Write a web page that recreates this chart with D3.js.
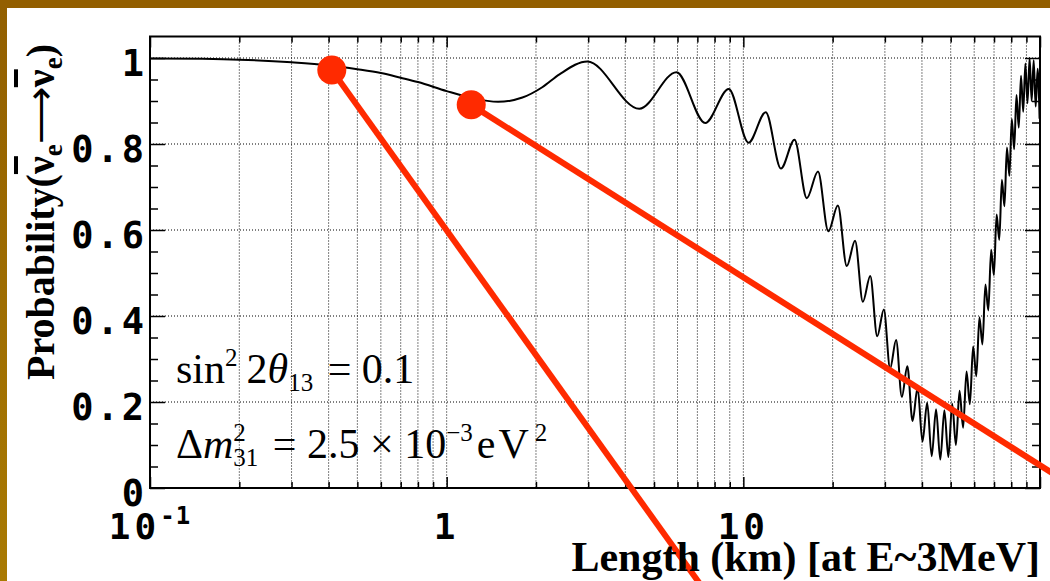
<!DOCTYPE html>
<meta charset="UTF-8">
<style>
  body { margin: 0; background: #fff; }
  svg { display: block; }
  .grid line { stroke: #000; stroke-width: 1; stroke-dasharray: 1,2; }
  .ticklab { font-family: "DejaVu Sans Mono", monospace; font-weight: bold; fill: #000; }
  .serif { font-family: "Liberation Serif", "Times New Roman", serif; fill: #000; }
  .axis path { display: none; }
  .axis line { stroke: #000; stroke-width: 1.5; }
</style>

<svg width="1050" height="581"></svg>
<script src="https://d3js.org/d3.v7.min.js"></script>
<script>

// curve: distance (km) and survival probability
var lengthKm = [0.1, 0.15, 0.2, 0.3, 0.4, 0.5, 0.6, 0.7, 0.8, 1.0, 1.2, 1.49, 1.8, 2.1, 2.4,
    2.98, 4.46, 5.95, 7.44, 8.93, 10.41, 11.90, 13.39, 14.88, 16.37, 17.85, 19.34, 20.83,
    22.32, 23.80, 25.29, 26.78, 28.27, 29.76, 31.24, 32.73, 34.22, 35.71, 37.19, 38.68,
    40.17, 41.66, 43.15, 44.63, 46.12, 47.61, 49.10, 50.58, 52.07, 53.56, 55.05, 56.54,
    58.02, 59.51, 61.00, 62.49, 63.97, 65.46, 66.95, 68.44, 69.92, 71.41, 72.90, 74.39,
    75.88, 77.36, 78.85, 80.34, 81.83, 83.31, 84.80, 86.29, 87.78, 89.27, 90.75, 92.24,
    93.73, 95.22, 96.70, 98.19, 99.68];
var probability = [0.999, 0.998, 0.996, 0.990, 0.983, 0.974, 0.965, 0.954, 0.944, 0.923, 0.908, 0.898, 0.908, 0.932, 0.962,
    0.992, 0.882, 0.967, 0.849, 0.928, 0.803, 0.874, 0.743, 0.810, 0.674, 0.736, 0.597, 0.657,
    0.516, 0.575, 0.433, 0.493, 0.353, 0.415, 0.278, 0.344, 0.212, 0.283, 0.156, 0.233,
    0.108, 0.198, 0.074, 0.183, 0.066, 0.181, 0.072, 0.196, 0.100, 0.226, 0.140, 0.271,
    0.195, 0.329, 0.260, 0.397, 0.334, 0.473, 0.413, 0.554, 0.495, 0.636, 0.577, 0.717,
    0.655, 0.792, 0.726, 0.858, 0.788, 0.914, 0.838, 0.959, 0.875, 0.987, 0.895, 1.000,
    0.900, 0.995, 0.887, 0.975, 0.859];

var yTickValues = [0, 0.2, 0.4, 0.6, 0.8, 1];
var yTickLabels = ["0", "0.2", "0.4", "0.6", "0.8", "1"];
var xLabelValues = [0.1, 1, 10];
var xLabelBase = ["10", "1", "10"];
var xLabelExp = ["-1", "", ""];

// red markers and the pointer lines leaving them
var markerKm = [0.41, 1.21];
var markerProb = [0.972, 0.891];
var pointerEndKm = [7.8, 117];
var pointerEndProb = [-0.26, 0.023];

var svg = d3.select("svg");
var plotL = 150, plotR = 1040, plotT = 36.5, plotB = 488;

var x = d3.scaleLog().domain([0.1, 100]).range([plotL, plotR]);
var y = d3.scaleLinear().domain([0, 1.05]).range([plotB, plotT]);

// brown slide frame
var grad = svg.append("defs").append("linearGradient")
    .attr("id", "edge").attr("x1", 0).attr("y1", 0).attr("x2", 0).attr("y2", 1);
grad.append("stop").attr("offset", "0%").attr("stop-color", "#925f00");
grad.append("stop").attr("offset", "100%").attr("stop-color", "#a97a02");
svg.append("rect").attr("x", 0).attr("y", 0).attr("width", 7).attr("height", 581).attr("fill", "url(#edge)");
svg.append("rect").attr("x", 0).attr("y", 0).attr("width", 1050).attr("height", 8).attr("fill", "#935f00");

var xAll = x.ticks();
var xMajor = xAll.filter(function(d) { return Math.abs(Math.log10(d) - Math.round(Math.log10(d))) < 1e-9; });
var xMinor = xAll.filter(function(d) { return xMajor.indexOf(d) < 0; });
var yMinor = y.ticks(21).filter(function(d) { return d <= 1.0001 && yTickValues.indexOf(+d.toFixed(2)) < 0; });

// dotted grid
var grid = svg.append("g").attr("class", "grid");
grid.selectAll(".vx").data(xAll.filter(function(d) { return d > 0.1 && d < 100; }))
  .enter().append("line")
    .attr("x1", function(d) { return x(d); }).attr("x2", function(d) { return x(d); })
    .attr("y1", plotT).attr("y2", plotB);
grid.selectAll(".hy").data(yTickValues.slice(1))
  .enter().append("line")
    .attr("x1", plotL).attr("x2", plotR)
    .attr("y1", function(d) { return y(d); }).attr("y2", function(d) { return y(d); });

// inward ticks on all four sides
svg.append("g").attr("class", "axis").attr("transform", "translate(0," + plotB + ")")
    .call(d3.axisBottom(x).tickValues(xMajor).tickSize(-11).tickFormat(""));
svg.append("g").attr("class", "axis").attr("transform", "translate(0," + plotB + ")")
    .call(d3.axisBottom(x).tickValues(xMinor).tickSize(-6).tickFormat(""));
svg.append("g").attr("class", "axis").attr("transform", "translate(0," + plotT + ")")
    .call(d3.axisTop(x).tickValues(xMajor).tickSize(-11).tickFormat(""));
svg.append("g").attr("class", "axis").attr("transform", "translate(0," + plotT + ")")
    .call(d3.axisTop(x).tickValues(xMinor).tickSize(-6).tickFormat(""));
svg.append("g").attr("class", "axis").attr("transform", "translate(" + plotL + ",0)")
    .call(d3.axisLeft(y).tickValues(yTickValues).tickSize(-15).tickFormat(""));
svg.append("g").attr("class", "axis").attr("transform", "translate(" + plotL + ",0)")
    .call(d3.axisLeft(y).tickValues(yMinor).tickSize(-8).tickFormat(""));
svg.append("g").attr("class", "axis").attr("transform", "translate(" + plotR + ",0)")
    .call(d3.axisRight(y).tickValues(yTickValues).tickSize(-15).tickFormat(""));
svg.append("g").attr("class", "axis").attr("transform", "translate(" + plotR + ",0)")
    .call(d3.axisRight(y).tickValues(yMinor).tickSize(-8).tickFormat(""));

svg.append("rect")
    .attr("x", plotL).attr("y", plotT)
    .attr("width", plotR - plotL).attr("height", plotB - plotT)
    .attr("fill", "none").attr("stroke", "#000").attr("stroke-width", 2);

// tick labels
svg.selectAll(".ylab").data(yTickValues)
  .enter().append("text")
    .attr("class", "ticklab")
    .attr("x", plotL - 3)
    .attr("y", function(d) { return y(d) + 18; })
    .attr("text-anchor", "end")
    .attr("font-size", 37)
    .attr("letter-spacing", 3)
    .text(function(d, i) { return yTickLabels[i]; });

var xl = svg.selectAll(".xlab").data(xLabelValues)
  .enter().append("text")
    .attr("class", "ticklab")
    .attr("x", function(d) { return x(d); })
    .attr("y", 539)
    .attr("text-anchor", "middle")
    .attr("font-size", 36)
    .attr("letter-spacing", 4);
xl.append("tspan").text(function(d, i) { return xLabelBase[i]; });
xl.append("tspan").attr("font-size", 24).attr("dy", -15).attr("letter-spacing", 1)
    .text(function(d, i) { return xLabelExp[i]; });

// the probability curve
var curve = d3.line()
    .x(function(d) { return x(d[0]); })
    .y(function(d) { return y(d[1]); })
    .curve(d3.curveMonotoneX);

svg.append("path")
    .datum(lengthKm.map(function(d, i) { return [d, probability[i]]; }))
    .attr("fill", "none")
    .attr("stroke", "#000")
    .attr("stroke-width", 2)
    .attr("stroke-linejoin", "round")
    .attr("d", curve);

// parameters
var p1 = svg.append("text").attr("class", "serif").attr("x", 176).attr("y", 383).attr("font-size", 42);
p1.append("tspan").text("sin");
p1.append("tspan").attr("font-size", 25).attr("dy", -17).text("2");
p1.append("tspan").attr("dy", 17).attr("dx", 9).text("2");
p1.append("tspan").attr("font-style", "italic").text("θ");
p1.append("tspan").attr("font-size", 25).attr("dy", 8).text("13");
p1.append("tspan").attr("dy", -8).attr("dx", 4).text(" = 0.1");

var p2 = svg.append("text").attr("class", "serif").attr("x", 176).attr("y", 458).attr("font-size", 42);
p2.append("tspan").text("Δ");
p2.append("tspan").attr("font-style", "italic").text("m");
p2.append("tspan").attr("font-size", 25).attr("dy", -17).text("2");
p2.append("tspan").attr("font-size", 25).attr("dy", 25).attr("dx", -12.5).text("31");
p2.append("tspan").attr("dy", -8).attr("dx", 4).text(" = 2.5 × 10");
p2.append("tspan").attr("font-size", 25).attr("dy", -17).text("−3");
p2.append("tspan").attr("dy", 17).attr("dx", 4).attr("letter-spacing", 3).text("eV");
p2.append("tspan").attr("font-size", 25).attr("dy", -17).attr("dx", 3).text("2");

// red pointers
svg.selectAll(".pointer").data(markerKm)
  .enter().append("line")
    .attr("x1", function(d) { return x(d); })
    .attr("y1", function(d, i) { return y(markerProb[i]); })
    .attr("x2", function(d, i) { return x(pointerEndKm[i]); })
    .attr("y2", function(d, i) { return y(pointerEndProb[i]); })
    .attr("stroke", "#ff2a00")
    .attr("stroke-width", 6);

svg.selectAll(".marker").data(markerKm)
  .enter().append("circle")
    .attr("cx", function(d) { return x(d); })
    .attr("cy", function(d, i) { return y(markerProb[i]); })
    .attr("r", 14.5)
    .attr("fill", "#ff2a00");

// axis titles
svg.append("text").attr("class", "serif")
    .attr("x", plotR).attr("y", 571)
    .attr("text-anchor", "end")
    .attr("font-size", 42).attr("font-weight", "bold")
    .text("Length (km) [at E~3MeV]");

var yt = svg.append("text").attr("class", "serif")
    .attr("transform", "translate(54,380) rotate(-90)")
    .attr("font-size", 40).attr("font-weight", "bold");
yt.append("tspan").text("Probability(");
yt.append("tspan").style("text-decoration", "overline").text("ν");
yt.append("tspan").attr("font-size", 27).attr("dy", 8).text("e");
yt.append("tspan").attr("dy", -8).attr("font-weight", "normal").text("⟶");
yt.append("tspan").style("text-decoration", "overline").text("ν");
yt.append("tspan").attr("font-size", 27).attr("dy", 8).text("e");
yt.append("tspan").attr("dy", -8).text(")");

</script>
